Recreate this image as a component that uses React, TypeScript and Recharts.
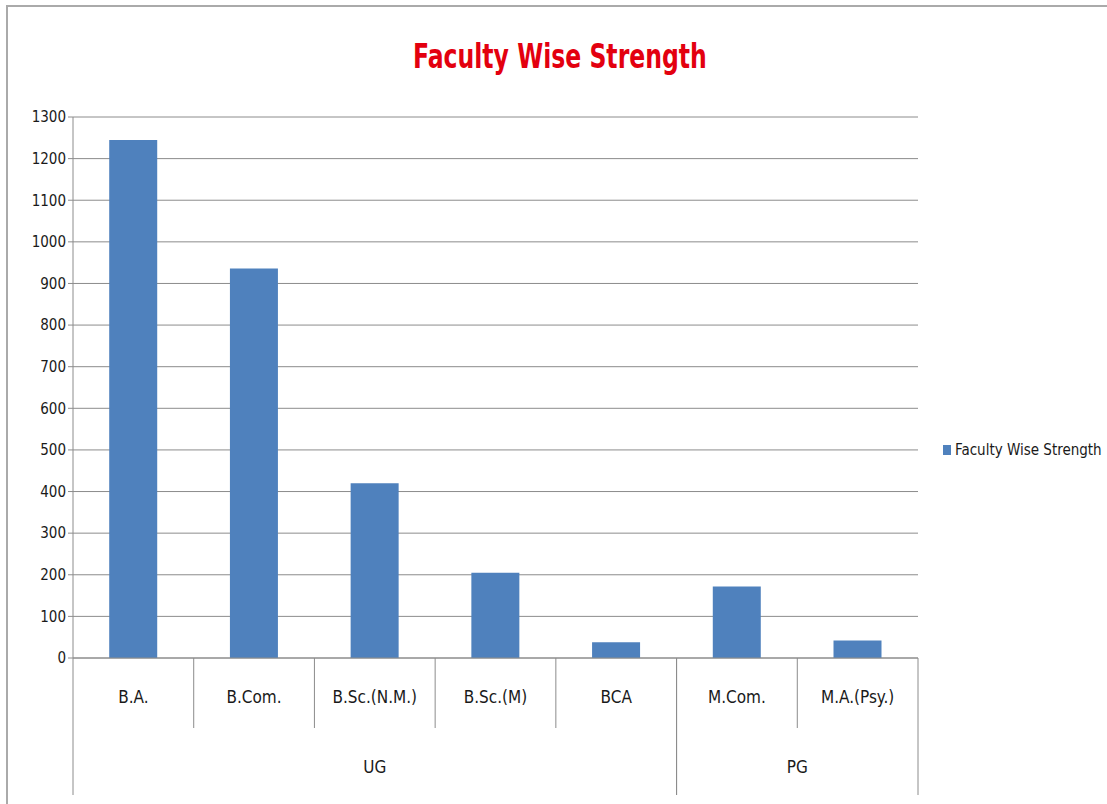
import React from "react";
import { BarChart, Bar, XAxis, YAxis, CartesianGrid } from "recharts";

const categories = [
  "B.A.",
  "B.Com.",
  "B.Sc.(N.M.)",
  "B.Sc.(M)",
  "BCA",
  "M.Com.",
  "M.A.(Psy.)",
];
const groups = ["UG", "UG", "UG", "UG", "UG", "PG", "PG"];
const strength = [1245, 936, 420, 205, 38, 172, 42];
const yTicks = [0, 100, 200, 300, 400, 500, 600, 700, 800, 900, 1000, 1100, 1200, 1300];
const seriesName = "Faculty Wise Strength";
const title = "Faculty Wise Strength";

const FONT = '"DejaVu Sans", sans-serif';
const GRID = "#8c8c8c";
const BAR = "#4f81bd";

const WIDTH = 1107;
const HEIGHT = 804;
const MARGIN = { top: 117, right: 189, left: 8, bottom: 0 };
const Y_AXIS_W = 65;
const X_AXIS_H = 146;
const PLOT_W = WIDTH - MARGIN.left - MARGIN.right - Y_AXIS_W;

const data = categories.map((c, i) => ({
  name: c,
  group: groups[i],
  value: strength[i],
}));

const textStyle: React.CSSProperties = { fontStretch: "condensed" };

// two level category axis: labels + separators, group labels + group separators
const CategoryTick = (props: any) => {
  const { x, y, payload } = props;
  const i = payload.index;
  const band = PLOT_W / categories.length;
  const left = x - band / 2;
  const right = x + band / 2;
  const firstOfGroup = i === 0 || groups[i - 1] !== groups[i];
  const lastOfGroup = i === groups.length - 1 || groups[i + 1] !== groups[i];
  const els: React.ReactNode[] = [];
  els.push(
    <line key="l" x1={left} x2={left} y1={y} y2={y + (firstOfGroup ? 137 : 70)} stroke={GRID} strokeWidth={1} />
  );
  if (lastOfGroup) {
    els.push(
      <line key="r" x1={right} x2={right} y1={y} y2={y + 137} stroke={GRID} strokeWidth={1} />
    );
  }
  if (firstOfGroup) {
    const count = groups.filter((g) => g === groups[i]).length;
    els.push(
      <text key="g" x={left + (count * band) / 2} y={y + 115} textAnchor="middle" fontFamily={FONT} style={textStyle} fontSize={17} fill="#1a1a1a">
        {groups[i]}
      </text>
    );
  }
  return (
    <g>
      {els}
      <text x={x} y={y + 45} textAnchor="middle" fontFamily={FONT} style={textStyle} fontSize={17} fill="#1a1a1a">
        {payload.value}
      </text>
    </g>
  );
};

export default function App() {
  return (
    <div style={{ position: "absolute", top: 0, left: 0, width: WIDTH, height: HEIGHT, background: "#fff", overflow: "hidden" }}>
      <div
        style={{
          position: "absolute",
          top: 5,
          left: 6,
          width: WIDTH,
          height: HEIGHT,
          borderTop: "2px solid #aaa",
          borderLeft: "2px solid #aaa",
        }}
      />
      <div
        style={{
          position: "absolute",
          top: 36,
          left: 0,
          width: 1120,
          textAlign: "center",
          fontFamily: FONT,
          fontStretch: "condensed",
          fontWeight: 700,
          fontSize: 34,
          color: "#e3000f",
          transform: "scaleX(0.77)",
          transformOrigin: "560px 0",
        }}
      >
        {title}
      </div>
      <BarChart
        width={WIDTH}
        height={HEIGHT}
        data={data}
        margin={MARGIN}
        barCategoryGap="30%"
        style={{ position: "absolute", top: 0, left: 0 }}
      >
        <CartesianGrid vertical={false} stroke={GRID} strokeWidth={1} />
        <YAxis
          width={Y_AXIS_W}
          domain={[0, 1300]}
          ticks={yTicks}
          interval={0}
          tickSize={5}
          tickMargin={2}
          axisLine={{ stroke: GRID }}
          tickLine={{ stroke: GRID }}
          tick={{ fontFamily: FONT, fontSize: 15, fill: "#1a1a1a", style: textStyle }}
        />
        <XAxis
          dataKey="name"
          height={X_AXIS_H}
          interval={0}
          tickSize={0}
          tickMargin={0}
          axisLine={{ stroke: GRID }}
          tickLine={false}
          tick={<CategoryTick />}
        />
        <Bar dataKey="value" name={seriesName} fill={BAR} isAnimationActive={false} />
      </BarChart>
      <div
        style={{
          position: "absolute",
          left: 943,
          top: 441,
          display: "flex",
          alignItems: "center",
          whiteSpace: "nowrap",
          fontFamily: FONT,
          fontStretch: "condensed",
          fontSize: 15,
          color: "#1a1a1a",
        }}
      >
        <span style={{ display: "inline-block", width: 8, height: 10, background: BAR, marginRight: 4 }} />
        {seriesName}
      </div>
    </div>
  );
}
